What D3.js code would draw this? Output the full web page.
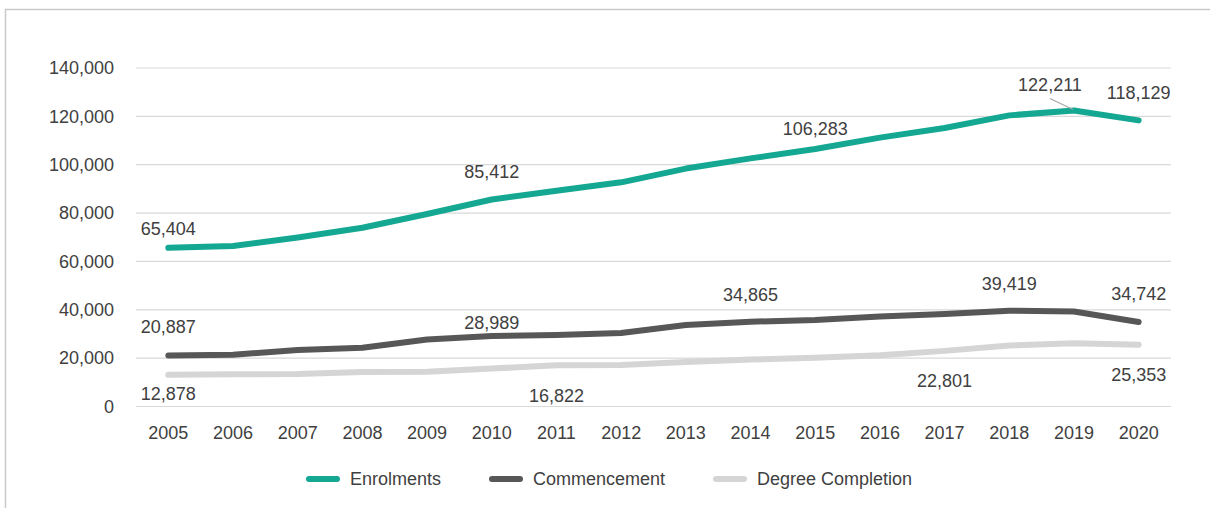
<!DOCTYPE html>
<html>
<head>
<meta charset="utf-8">
<script src="https://cdn.jsdelivr.net/npm/d3@7/dist/d3.min.js"></script>
<style>
  html, body { margin: 0; padding: 0; background: #fff; }
  svg { display: block; }
  text { font-family: "Liberation Sans", Arial, sans-serif; fill: #404040; }
</style>
</head>
<body>
<svg id="chart" width="1210" height="508"></svg>
<script>
// Student numbers by year
const years = ["2005","2006","2007","2008","2009","2010","2011","2012","2013","2014","2015","2016","2017","2018","2019","2020"];
const enrolments   = [65404, 66200, 69700, 73700, 79400, 85412, 89000, 92500, 98200, 102400, 106283, 111000, 115000, 120200, 122211, 118129];
const commencement = [20887, 21200, 23200, 24100, 27500, 28989, 29400, 30200, 33500, 34865, 35600, 37000, 38000, 39419, 39100, 34742];
const completion   = [12878, 13100, 13200, 14100, 14200, 15500, 16822, 17000, 18200, 19200, 20000, 21000, 22801, 25000, 26000, 25353];
const yTicks = [0, 20000, 40000, 60000, 80000, 100000, 120000, 140000];
const seriesNames = ["Enrolments", "Commencement", "Degree Completion"];
const seriesColors = ["#14a892", "#575757", "#d5d5d5"];

const svg = d3.select("#chart");

// outer frame
svg.append("rect")
  .attr("x", 5.5).attr("y", 9.5)
  .attr("width", 1220).attr("height", 520)
  .attr("fill", "none").attr("stroke", "#c9c9c9").attr("stroke-width", 1.5);

const plotLeft = 136, plotRight = 1171, plotTop = 67.5, plotBottom = 406;

const x = d3.scaleBand().domain(years).range([plotLeft, plotRight]);
const y = d3.scaleLinear().domain([0, 140000]).range([plotBottom, plotTop]);
const cx = yr => x(yr) + x.bandwidth() / 2;

// horizontal gridlines + y labels
const yAxis = d3.axisLeft(y).tickValues(yTicks).tickSize(-(plotRight - plotLeft)).tickFormat(d3.format(","));
const gy = svg.append("g").attr("transform", `translate(${plotLeft},0)`).call(yAxis);
gy.select(".domain").remove();
gy.selectAll(".tick line").attr("stroke", "#d9d9d9").attr("stroke-width", 1.2);
gy.selectAll(".tick text")
  .attr("x", -22).attr("dy", "0.35em")
  .style("font-size", "18px").style("font-family", "'Liberation Sans', Arial, sans-serif")
  .attr("fill", "#404040");

// x labels
const xAxis = d3.axisBottom(x).tickSize(0);
const gx = svg.append("g").attr("transform", `translate(0,${plotBottom})`).call(xAxis);
gx.select(".domain").remove();
gx.selectAll(".tick text")
  .attr("y", 27).attr("dy", "0.35em")
  .style("font-size", "18px").style("font-family", "'Liberation Sans', Arial, sans-serif")
  .attr("fill", "#404040");

// lines (last series drawn first so Enrolments sits on top)
const allSeries = [enrolments, commencement, completion];
const line = d3.line()
  .x((d, i) => cx(years[i]))
  .y(d => y(d))
  .curve(d3.curveLinear);

[2, 1, 0].forEach(k => {
  svg.append("path")
    .datum(allSeries[k])
    .attr("d", line)
    .attr("fill", "none")
    .attr("stroke", seriesColors[k])
    .attr("stroke-width", 6)
    .attr("stroke-linecap", "round")
    .attr("stroke-linejoin", "round");
});

// data labels: [series index, year index, dx, dy]
const labels = [
  [0, 0, 0, -19], [0, 5, 0, -28], [0, 10, 0, -20], [0, 14, -24, -26], [0, 15, 0, -28],
  [1, 0, 0, -29], [1, 5, 0, -13], [1, 9, 0, -27], [1, 13, 0, -27], [1, 15, 0, -28],
  [2, 0, 0, 19], [2, 6, 0, 30], [2, 12, 0, 30], [2, 15, 0, 30]
];

// leader line for the 2019 enrolments label
svg.append("line")
  .attr("x1", cx(years[14]) - 24).attr("y1", y(enrolments[14]) - 12)
  .attr("x2", cx(years[14]) - 1).attr("y2", y(enrolments[14]) - 1)
  .attr("stroke", "#a6a6a6").attr("stroke-width", 1.2);

svg.append("g").selectAll("text")
  .data(labels)
  .join("text")
  .attr("x", d => cx(years[d[1]]) + d[2])
  .attr("y", d => y(allSeries[d[0]][d[1]]) + d[3])
  .attr("dy", "0.35em")
  .attr("text-anchor", "middle")
  .style("font-size", "18px")
  .text(d => d3.format(",")(allSeries[d[0]][d[1]]));

// legend
const legendX = [306, 489, 713];
const lg = svg.append("g");
seriesNames.forEach((name, i) => {
  lg.append("line")
    .attr("x1", legendX[i] + 3).attr("x2", legendX[i] + 31)
    .attr("y1", 479).attr("y2", 479)
    .attr("stroke", seriesColors[i]).attr("stroke-width", 6)
    .attr("stroke-linecap", "round");
  lg.append("text")
    .attr("x", legendX[i] + 44).attr("y", 479).attr("dy", "0.35em")
    .style("font-size", "18px")
    .text(name);
});
</script>
</body>
</html>
